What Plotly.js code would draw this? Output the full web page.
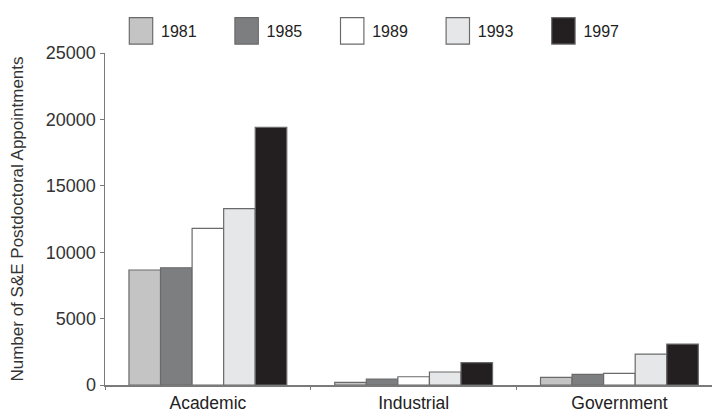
<!DOCTYPE html>
<html>
<head>
<meta charset="utf-8">
<script src="https://cdn.plot.ly/plotly-3.0.1.min.js"></script>
<style>html,body{margin:0;padding:0;background:#fff;}</style>
</head>
<body>
<div id="chart" style="width:712px;height:411px;"></div>
<script>
const categories = ["Academic", "Industrial", "Government"];
const years = ["1981", "1985", "1989", "1993", "1997"];
const v1981 = [8660, 200, 580];
const v1985 = [8830, 450, 800];
const v1989 = [11800, 620, 880];
const v1993 = [13280, 980, 2330];
const v1997 = [19400, 1680, 3080];
const seriesValues = [v1981, v1985, v1989, v1993, v1997];
const colors = ["#c4c4c4", "#7d7e80", "#ffffff", "#e6e7e8", "#231f20"];

const traces = years.map((y, i) => ({
  type: "bar",
  name: y,
  x: categories,
  y: seriesValues[i],
  marker: {color: colors[i], line: {color: "#6a6a6a", width: 1.2}},
  hoverinfo: "skip"
}));

const layout = {
  width: 712, height: 411,
  margin: {l: 105, r: 0, t: 53, b: 26},
  paper_bgcolor: "#fff", plot_bgcolor: "#fff",
  font: {family: "Liberation Sans, Arial, sans-serif", color: "#222", size: 14},
  barmode: "group", bargap: 0.233, bargroupgap: 0,
  showlegend: true,
  legend: {
    orientation: "h", x: 121 / 712, xanchor: "left", xref: "container",
    y: 0.966, yanchor: "top", yref: "container",
    font: {size: 16, color: "#222"},
    entrywidth: 60.6, entrywidthmode: "pixels",
    traceorder: "normal", bgcolor: "rgba(0,0,0,0)"
  },
  xaxis: {
    range: [-0.5, 2.45], fixedrange: true,
    showline: true, linecolor: "#7a7a7a", linewidth: 1.5,
    ticks: "outside", tickson: "boundaries", ticklen: 3, tickcolor: "#7a7a7a",
    tickfont: {size: 17.5, color: "#222"}, ticklabelstandoff: 1,
    showgrid: false, zeroline: false
  },
  yaxis: {
    range: [0, 25000], tickvals: [0, 5000, 10000, 15000, 20000, 25000],
    ticktext: ["0", "5000", "10000", "15000", "20000", "25000"],
    showline: true, linecolor: "#7a7a7a", linewidth: 1.5,
    ticks: "outside", ticklen: 4, tickcolor: "#7a7a7a",
    tickfont: {size: 18, color: "#333"},
    showgrid: false, zeroline: false,
    title: {text: "Number of S&E Postdoctoral Appointments", font: {size: 17, color: "#333"}, standoff: 18}
  }
};

Plotly.newPlot("chart", traces, layout, {displayModeBar: false, staticPlot: true}).then(() => {
  document.querySelectorAll("#chart .legendpoints path").forEach(p => {
    p.setAttribute("transform", "translate(20,0) scale(1.95,2.2)");
    p.style.strokeWidth = "0.6px";
  });
});
</script>
</body>
</html>
